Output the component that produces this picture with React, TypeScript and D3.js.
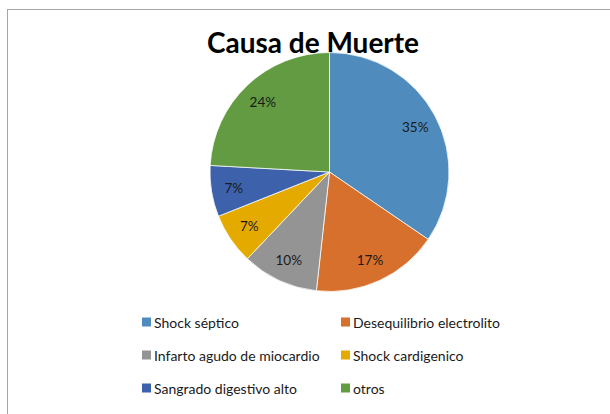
import React from "react";
import * as d3 from "d3";

const categories = [
  "Shock séptico",
  "Desequilibrio electrolito",
  "Infarto agudo de miocardio",
  "Shock cardigenico",
  "Sangrado digestivo alto",
  "otros",
];
const values = [34.5, 17.2, 10.3, 6.9, 6.9, 24.1];
const valueLabels = ["35%", "17%", "10%", "7%", "7%", "24%"];
const colors = ["#4f8bbd", "#d6702c", "#949494", "#e4aa00", "#3d62ab", "#629b42"];

const W = 610;
const H = 414;
const cx = 329.5;
const cy = 172;
const radius = 119.5;

const App: React.FC = () => {
  const pie = d3
    .pie<number>()
    .value((d) => d)
    .sort(null);
  const arcs = pie(values);
  const arc = d3.arc<d3.PieArcDatum<number>>().innerRadius(0).outerRadius(radius);
  const labelArc = d3
    .arc<d3.PieArcDatum<number>>()
    .innerRadius(97)
    .outerRadius(97);

  // legend grid: 2 columns x 3 rows
  const colX = d3.scaleOrdinal<number, number>().domain([0, 1]).range([142, 341]);
  const rowY = d3.scaleLinear().domain([0, 2]).range([322, 388]);

  const font = "Lato, 'Open Sans', sans-serif";

  return (
    <svg
      width={W}
      height={H}
      style={{ position: "absolute", left: 0, top: 0, background: "#fff" }}
    >
      {/* frame, runs off the right and bottom edges */}
      <rect x={7.5} y={9.5} width={W + 10} height={H + 10} fill="#fff" stroke="#a6a6a6" strokeWidth={1} />

      <text
        x={313}
        y={53}
        textAnchor="middle"
        fontFamily={font}
        fontWeight={700}
        fontSize={28}
        fill="#000"
      >
        Causa de Muerte
      </text>

      <g transform={`translate(${cx},${cy})`}>
        {arcs.map((d, i) => (
          <path key={i} d={arc(d) || ""} fill={colors[i]} stroke="#fff" strokeWidth={0.75} />
        ))}
        {arcs.map((d, i) => {
          const [x, y] = labelArc.centroid(d);
          return (
            <text
              key={i}
              x={x}
              y={y}
              textAnchor="middle"
              dominantBaseline="central"
              fontFamily={font}
              fontSize={13.5}
              fill="#1a1a1a"
            >
              {valueLabels[i]}
            </text>
          );
        })}
      </g>

      {categories.map((c, i) => {
        const x = colX(i % 2);
        const y = rowY(Math.floor(i / 2));
        return (
          <g key={c}>
            <rect x={x} y={y - 4.5} width={9} height={9} fill={colors[i]} />
            <text
              x={x + 12}
              y={y}
              dominantBaseline="central"
              fontFamily={font}
              fontSize={14}
              fill="#1a1a1a"
            >
              {c}
            </text>
          </g>
        );
      })}
    </svg>
  );
};

export default App;
